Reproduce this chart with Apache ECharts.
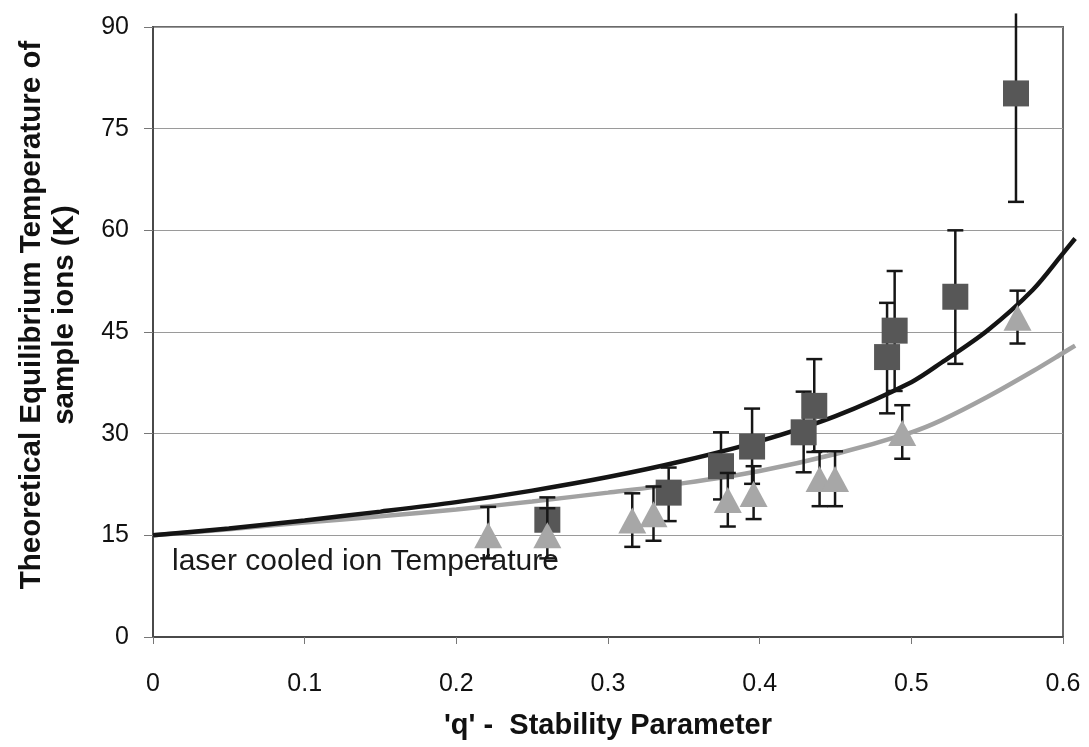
<!DOCTYPE html>
<html>
<head>
<meta charset="utf-8">
<script src="https://cdn.jsdelivr.net/npm/echarts@6/dist/echarts.min.js"></script>
<style>
html,body{margin:0;padding:0;background:#fff;}
#chart{width:1089px;height:747px;}
</style>
</head>
<body>
<div id="chart"></div>
<script>
// ---- data ----
const xTicks = [0, 0.1, 0.2, 0.3, 0.4, 0.5, 0.6];
const yTicks = [0, 15, 30, 45, 60, 75, 90];

// theoretical curves (read at sampled q values; they run slightly past q = 0.6 as in the original)
const curveQ      = [0, 0.05, 0.1, 0.15, 0.2, 0.25, 0.3, 0.35, 0.4, 0.45, 0.5, 0.52, 0.55, 0.58, 0.6, 0.608];
const blackCurveT = [15.0, 16.0, 17.2, 18.5, 19.9, 21.6, 23.6, 26.0, 28.9, 32.6, 37.6, 40.5, 45.2, 51.2, 56.6, 58.8];
const grayCurveT  = [15.0, 15.9, 16.9, 17.8, 18.8, 20.0, 21.3, 22.7, 24.5, 27.0, 30.2, 32.0, 35.4, 39.2, 41.9, 43.0];

// square markers (dark)
const squareQ    = [0.26, 0.34, 0.3745, 0.395, 0.429, 0.436, 0.484, 0.489, 0.529, 0.569];
const squareT    = [17.3, 21.3, 25.2, 28.1, 30.2, 34.1, 41.3, 45.2, 50.2, 80.2];
const squareLow  = [14.0, 17.1, 20.3, 22.6, 24.3, 27.3, 33.0, 36.3, 40.3, 64.2];
const squareHigh = [20.6, 25.0, 30.2, 33.7, 36.2, 41.0, 49.3, 54.0, 60.0, 92.0];

// triangle markers (light)
const triQ    = [0.221, 0.26, 0.316, 0.330, 0.379, 0.396, 0.4395, 0.4497, 0.494, 0.570];
const triT    = [15.0, 15.0, 17.2, 18.1, 20.2, 21.1, 23.3, 23.3, 30.1, 47.1];
const triLow  = [11.6, 11.6, 13.3, 14.2, 16.3, 17.4, 19.3, 19.3, 26.3, 43.3];
const triHigh = [19.2, 19.0, 21.2, 22.2, 24.2, 25.2, 27.4, 27.4, 34.2, 51.1];

const annotationText = 'laser cooled ion Temperature';
const xTitle = "'q' -  Stability Parameter";
const yTitle = 'Theoretical Equilibrium Temperature of\nsample ions (K)';

// ---- build ----
const FONT = "'Liberation Sans', Arial, sans-serif";
const zip = (a, b) => a.map((v, i) => [v, b[i]]);
const zip3 = (a, b, c) => a.map((v, i) => [v, b[i], c[i]]);
const yMin = yTicks[0], yMax = yTicks[yTicks.length - 1];
const xMin = xTicks[0], xMax = xTicks[xTicks.length - 1];
const curveQMax = curveQ[curveQ.length - 1];

function errRender(params, api) {
  const x = api.value(0), lo = api.value(1), hi = api.value(2);
  const pLo = api.coord([x, lo]);
  const pHi = api.coord([x, hi]);
  const half = 8;
  const st = { stroke: '#161616', lineWidth: 2.5 };
  const children = [
    { type: 'line', shape: { x1: pLo[0], y1: pLo[1], x2: pHi[0], y2: pHi[1] }, style: st },
    { type: 'line', shape: { x1: pLo[0] - half, y1: pLo[1], x2: pLo[0] + half, y2: pLo[1] }, style: st }
  ];
  if (hi <= yMax) {
    children.push({ type: 'line', shape: { x1: pHi[0] - half, y1: pHi[1], x2: pHi[0] + half, y2: pHi[1] }, style: st });
  }
  return { type: 'group', children };
}

const fmt = ticks => v => { const t = ticks.find(tt => Math.abs(tt - v) < 1e-9); return t === undefined ? '' : String(t); };

// plot box: left 153, right edge at 1063 (q = 0.6); curve box extends to q = 0.608 at the same scale
const plotLeft = 153, plotRight = 26, plotTop = 27, plotBottom = 110;
const plotWidth = 1089 - plotLeft - plotRight;
const curveRight = 1089 - plotLeft - plotWidth * (curveQMax - xMin) / (xMax - xMin);

const chart = echarts.init(document.getElementById('chart'), null, { renderer: 'canvas' });
chart.setOption({
  backgroundColor: '#ffffff',
  animation: false,
  textStyle: { fontFamily: FONT },
  grid: [
    { left: plotLeft, top: plotTop, right: plotRight, bottom: plotBottom,
      show: true, borderColor: '#6a6a6a', borderWidth: 2, backgroundColor: 'transparent' },
    { left: plotLeft, top: plotTop, right: curveRight, bottom: plotBottom, show: false }
  ],
  xAxis: [{
    type: 'value', min: xMin, max: xMax, interval: 0.1,
    name: xTitle, nameLocation: 'middle', nameGap: 74,
    nameTextStyle: { fontFamily: FONT, fontSize: 29, fontWeight: 'bold', color: '#111' },
    axisLine: { show: true, lineStyle: { color: '#4a4a4a', width: 2 } },
    axisTick: { show: true, inside: false, length: 7, lineStyle: { color: '#777', width: 1 } },
    axisLabel: { fontFamily: FONT, fontSize: 25, color: '#111', margin: 35, formatter: fmt(xTicks) },
    splitLine: { show: false }
  }, {
    type: 'value', gridIndex: 1, min: xMin, max: curveQMax, show: false
  }],
  yAxis: [{
    type: 'value', min: yMin, max: yMax, interval: 15,
    name: yTitle, nameLocation: 'middle', nameGap: 72, nameRotate: 90,
    nameTextStyle: { fontFamily: FONT, fontSize: 29.5, fontWeight: 'bold', color: '#111', lineHeight: 33, padding: [0, 0, 0, 34] },
    axisLine: { show: true, lineStyle: { color: '#4a4a4a', width: 2 } },
    axisTick: { show: true, inside: false, length: 9, lineStyle: { color: '#777', width: 1 } },
    axisLabel: { fontFamily: FONT, fontSize: 25, color: '#111', margin: 24, formatter: fmt(yTicks) },
    splitLine: { show: true, lineStyle: { color: '#9a9a9a', width: 1 } }
  }, {
    type: 'value', gridIndex: 1, min: yMin, max: yMax, show: false, splitLine: { show: false }
  }],
  graphic: [{
    type: 'text', z: 0,
    style: { text: annotationText, x: 172, y: 562, font: '30px ' + FONT, fill: '#1a1a1a', textVerticalAlign: 'middle', verticalAlign: 'middle' }
  }],
  series: [
    {
      type: 'line', xAxisIndex: 1, yAxisIndex: 1, data: zip(curveQ, grayCurveT), smooth: 0.3, showSymbol: false, clip: false, z: 2,
      lineStyle: { color: '#a2a2a2', width: 4.5 }
    },
    {
      type: 'line', xAxisIndex: 1, yAxisIndex: 1, data: zip(curveQ, blackCurveT), smooth: 0.3, showSymbol: false, clip: false, z: 2,
      lineStyle: { color: '#141414', width: 4.5 }
    },
    {
      type: 'custom', data: zip3(squareQ, squareLow, squareHigh), renderItem: errRender, clip: false, z: 3,
      encode: { x: 0, y: [1, 2] }
    },
    {
      type: 'scatter', data: zip(squareQ, squareT), symbol: 'rect', symbolSize: 26, z: 4,
      itemStyle: { color: '#575757', opacity: 1 }
    },
    {
      type: 'custom', data: zip3(triQ, triLow, triHigh), renderItem: errRender, clip: false, z: 5,
      encode: { x: 0, y: [1, 2] }
    },
    {
      type: 'scatter', data: zip(triQ, triT), symbol: 'triangle', symbolSize: [28, 26], z: 6,
      itemStyle: { color: '#a7a7a7', opacity: 1 }
    }
  ]
});
</script>
</body>
</html>
